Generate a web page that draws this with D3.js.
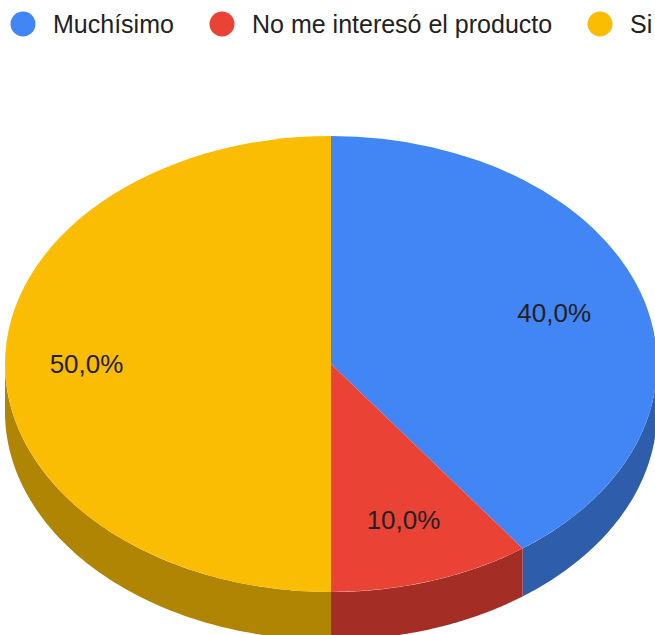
<!DOCTYPE html>
<html>
<head>
<meta charset="utf-8">
<script src="https://cdn.jsdelivr.net/npm/d3@7"></script>
<style>
  html, body { margin: 0; padding: 0; background: #fff; overflow: hidden; }
  svg { display: block; }
</style>
</head>
<body>
<svg id="chart" width="655" height="635"></svg>
<script>
// Survey answers and their shares (percent)
const categories = ["Muchísimo", "No me interesó el producto", "Si"];
const values = [40, 10, 50];
const labels = ["40,0%", "10,0%", "50,0%"];
const topColors = ["#4285f4", "#ea4335", "#fbbc04"];
const sideColors = ["#2e5eab", "#a42e26", "#b08503"];

const W = 655, H = 635;
const cx = 331, cy = 364, rx = 326, ry = 228, depth = 48;

const svg = d3.select("#chart");

const pie = d3.pie().value(d => d).sort(null);
const arcs = pie(values);

// point on the top ellipse, angle measured clockwise from 12 o'clock
const pt = (a, dy = 0) => [cx + rx * Math.sin(a), cy - ry * Math.cos(a) + dy];

// sides: only the front half (90°..270°) is visible
const frontA = Math.PI / 2, frontB = 3 * Math.PI / 2;
const sides = svg.append("g");
arcs.forEach((d, i) => {
  const a0 = Math.max(d.startAngle, frontA);
  const a1 = Math.min(d.endAngle, frontB);
  if (a1 <= a0) return;
  const steps = 80;
  const topEdge = d3.range(steps + 1).map(k => pt(a0 + (a1 - a0) * k / steps));
  const botEdge = d3.range(steps + 1).map(k => pt(a1 - (a1 - a0) * k / steps, depth));
  sides.append("path")
    .attr("d", d3.line()(topEdge.concat(botEdge)) + "Z")
    .attr("fill", sideColors[i]);
});

// top faces: circular arcs squashed into the ellipse
const arcGen = d3.arc().innerRadius(0).outerRadius(rx);
const tops = svg.append("g")
  .attr("transform", `translate(${cx},${cy}) scale(1,${ry / rx})`);
tops.selectAll("path")
  .data(arcs)
  .join("path")
  .attr("d", arcGen)
  .attr("fill", (d, i) => topColors[i]);

// percentage labels along each slice's bisector
const labelFrac = [0.72, 0.72, 0.75];
svg.append("g").selectAll("text")
  .data(arcs)
  .join("text")
  .attr("x", (d, i) => cx + rx * labelFrac[i] * Math.sin((d.startAngle + d.endAngle) / 2))
  .attr("y", (d, i) => cy - ry * labelFrac[i] * Math.cos((d.startAngle + d.endAngle) / 2))
  .attr("text-anchor", "middle")
  .attr("dominant-baseline", "central")
  .attr("font-family", "Arial, 'Liberation Sans', sans-serif")
  .attr("font-size", 26)
  .attr("fill", "#222")
  .text((d, i) => labels[i]);

// legend across the top
const legendX = [23, 222, 600];
const legend = svg.append("g").selectAll("g")
  .data(categories)
  .join("g")
  .attr("transform", (d, i) => `translate(${legendX[i]},24)`);
legend.append("circle")
  .attr("r", 12.5)
  .attr("fill", (d, i) => topColors[i]);
legend.append("text")
  .attr("x", 30)
  .attr("y", 0)
  .attr("dominant-baseline", "central")
  .attr("font-family", "Arial, 'Liberation Sans', sans-serif")
  .attr("font-size", 25)
  .attr("fill", "#222")
  .text(d => d);
</script>
</body>
</html>
